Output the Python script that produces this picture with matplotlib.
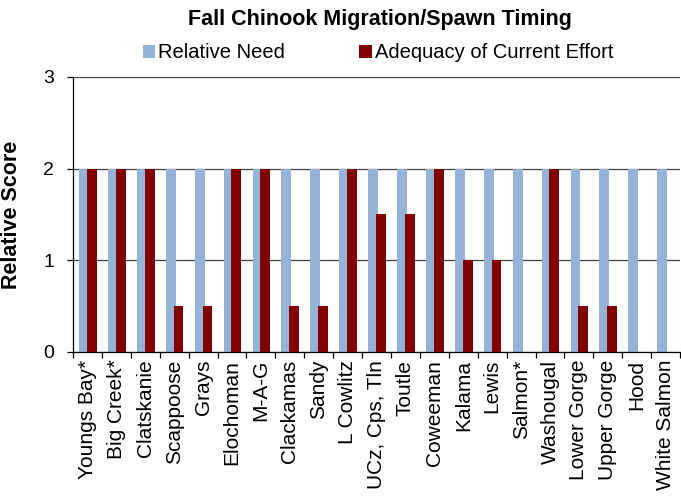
import numpy as np
import matplotlib
matplotlib.use("Agg")
import matplotlib.pyplot as plt
from matplotlib.ticker import FixedLocator

plt.rcParams['font.family'] = ['Liberation Sans', 'DejaVu Sans']

# -----------------------------
# Data
# -----------------------------
sites = ["Youngs Bay*", "Big Creek*", "Clatskanie", "Scappoose", "Grays",
         "Elochoman", "M-A-G", "Clackamas", "Sandy", "L Cowlitz",
         "UCz, Cps, Tln", "Toutle", "Coweeman", "Kalama", "Lewis",
         "Salmon*", "Washougal", "Lower Gorge", "Upper Gorge", "Hood",
         "White Salmon"]
relative_need = [2, 2, 2, 2, 2, 2, 2, 2, 2, 2, 2, 2, 2, 2, 2, 2, 2, 2, 2, 2, 2]
adequacy = [2, 2, 2, 0.5, 0.5, 2, 2, 0.5, 0.5, 2, 1.5, 1.5, 2, 1, 1, 0, 2,
            0.5, 0.5, 0, 0]
y_ticks = [0, 1, 2, 3]

# -----------------------------
# Figure
# -----------------------------
fig = plt.figure(figsize=(6.81, 4.98), dpi=100)
ax = fig.add_axes([0.1072, 0.2932, 0.8915, 0.5522])

x = np.arange(len(sites))
w = 0.34
ax.bar(x - 0.12, relative_need, width=w, color="#95B3D7", label="Relative Need", zorder=2)
ax.bar(x + 0.15, adequacy, width=w, color="#800000", label="Adequacy of Current Effort", zorder=3)

ax.set_xlim(-0.5, len(sites) - 0.5)
ax.set_ylim(0, 3)
ax.set_yticks(y_ticks)
ax.yaxis.grid(True, color="#404040", linewidth=0.9, zorder=1)
ax.set_axisbelow(True)

ax.set_xticks(x)
ax.set_xticklabels(sites, rotation=90, fontsize=15)
ax.xaxis.set_minor_locator(FixedLocator(np.arange(-0.5, len(sites), 1.0)))
ax.tick_params(axis="x", which="major", length=0, pad=5.5)
ax.tick_params(axis="x", which="minor", length=4.5, direction="out", width=0.9)
ax.tick_params(axis="y", length=4.5, width=0.9, pad=9, labelsize=14)

for s in ["top", "right"]:
    ax.spines[s].set_visible(False)
ax.spines["left"].set_linewidth(0.9)
ax.spines["bottom"].set_linewidth(0.9)

ax.set_ylabel("Relative Score", fontsize=15.5, fontweight="bold")
ax.yaxis.set_label_coords(-0.084, 0.5)

fig.text(0.558, 0.96, "Fall Chinook Migration/Spawn Timing", fontsize=15.5,
         fontweight="bold", ha="center", va="center")

fig.legend(loc="center", bbox_to_anchor=(378 / 681, 0.894), ncol=2, frameon=False,
           fontsize=14.5, handlelength=0.6, handleheight=0.6, handletextpad=0.15,
           columnspacing=3.7, borderaxespad=0, borderpad=0)

fig.savefig("out.png", dpi=100)
